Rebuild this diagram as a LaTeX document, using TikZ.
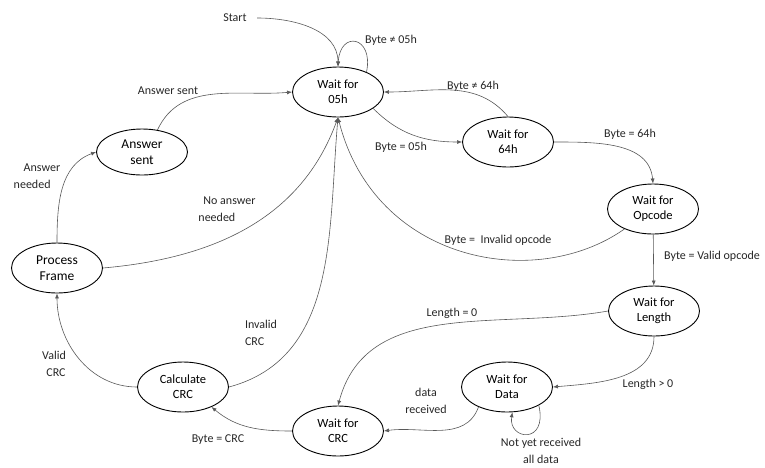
\documentclass[tikz,border=0pt]{standalone}
\usepackage{fontspec}
\setmainfont{Carlito}
\usetikzlibrary{shapes.geometric,arrows.meta}

\begin{document}
\begin{tikzpicture}[x=1pt,y=-1pt,
		state/.style={ellipse,draw,line width=0.9pt,minimum width=91pt,minimum height=50pt,
			inner sep=0pt,align=center,font=\fontsize{12.5}{15}\selectfont},
		bigstate/.style={state,font=\fontsize{13.5}{16}\selectfont},
		lbl/.style={align=center,text=black!85,font=\fontsize{12}{17}\selectfont},
		trans/.style={draw=black!65,line width=0.6pt,-{Latex[length=5pt,width=4pt]}}]
	\useasboundingbox (0,0) rectangle (765,467);
	% states
	\node[state] (w05) at (338,92) {Wait for\\05h};
	\node[state] (w64) at (508,142) {Wait for\\64h};
	\node[state] (opc) at (653,209) {Wait for\\Opcode};
	\node[state] (len) at (654,311) {Wait for\\Length};
	\node[state] (dat) at (507,387) {Wait for\\Data};
	\node[state] (crc) at (338,431) {Wait for\\CRC};
	\node[state] (calc) at (183,387) {Calculate\\CRC};
	\node[bigstate,minimum height=46pt] (ans) at (142,152) {Answer\\sent};
	\node[bigstate] (proc) at (57,268) {Process\\Frame};
	% labels
	\node[lbl] (lstart) at (235,18) {Start};
	\node[lbl] (lne05) at (391,40) {Byte ≠ 05h};
	\node[lbl] (lsent) at (168,91) {Answer sent};
	\node[lbl,align=left] (lneed) at (37,176) {\hspace*{10pt}Answer\\needed};
	\node[lbl,align=left] (lnoans) at (227,209) {\hspace*{5pt}No answer\\needed};
	\node[lbl] (lne64) at (473,86) {Byte ≠ 64h};
	\node[lbl] (leq05) at (401,147) {Byte = 05h};
	\node[lbl] (leq64) at (630,134) {Byte = 64h};
	\node[lbl] (linv) at (498,240) {Byte = \ Invalid opcode};
	\node[lbl] (lval) at (712,256) {Byte = Valid opcode};
	\node[lbl] (llen0) at (452,313) {Length = 0};
	\node[lbl] (llen1) at (648,384) {Length > 0};
	\node[lbl] (lrecv) at (426,401) {data\\received};
	\node[lbl] (lnot) at (541,451) {Not yet received\\all data};
	\node[lbl,align=left] (lbad) at (261,333) {Invalid\\CRC};
	\node[lbl] (lgood) at (54,364) {Valid\\\hspace*{4pt}CRC};
	\node[lbl] (lbyte) at (218,440) {Byte = CRC};

	% transitions
	\draw[trans] ([xshift=7pt]lstart.east) to[out=0,in=90] (w05.north);
	\draw[trans] (w05.35) .. controls (374,36) and (340,30) .. (w05.north);
	\draw[trans] (ans.55) to[out=65,in=185] (w05.west);
	\draw[trans] (proc.north) to[out=90,in=200] (ans.west);
	\draw[trans] (proc.east) to[out=5,in=250] (w05.south);
	\draw[trans] (calc.east) to[out=15,in=265] (w05.south);
	\draw[trans] (opc.215) .. controls (535,292) and (375,262) .. (w05.south);
	\draw[trans] (w05.-25) to[out=-45,in=180] (w64.west);
	\draw[trans] (w64.north) to[out=130,in=0] (w05.east);
	\draw[trans] (w64.east) to[out=0,in=95] (opc.north);
	\draw[trans] (opc) -- (len);
	\draw[trans] (len.west) to[out=190,in=75] (crc.north);
	\draw[trans] (len.south) to[out=-90,in=5] (dat.east);
	\draw[trans] (dat.-30) .. controls (548,445) and (508,440) .. (dat.-78);
	\draw[trans] (dat.215) to[out=250,in=8] (crc.east);
	\draw[trans] (crc.west) to[out=180,in=-40] (calc.-35);
	\draw[trans] (calc.west) to[out=180,in=-90] (proc.south);
\end{tikzpicture}
\end{document}
